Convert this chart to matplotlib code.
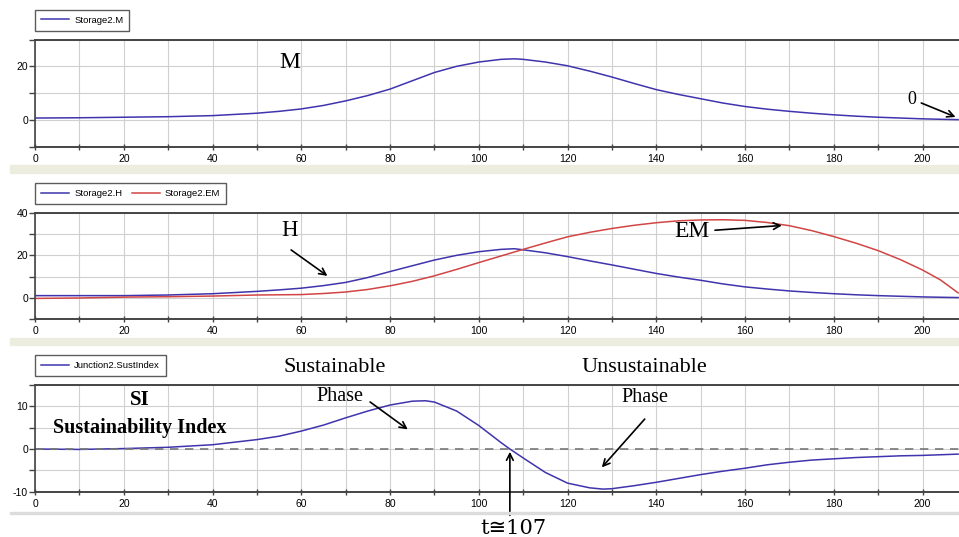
import matplotlib
matplotlib.use("Agg")
import matplotlib.pyplot as plt
from matplotlib.patches import Rectangle

# --- data (time in s) ---
t_M = [0, 10, 20, 30, 40, 50, 55, 60, 65, 70, 75, 80, 85, 90, 95, 100, 105, 108, 110,
       115, 120, 125, 130, 135, 140, 145, 150, 155, 160, 165, 170, 175, 180, 185, 190,
       195, 200, 205, 208]
M = [0.7, 0.8, 1.0, 1.2, 1.6, 2.5, 3.2, 4.1, 5.4, 7.1, 9.1, 11.5, 14.6, 17.7, 20.0, 21.6,
     22.6, 22.8, 22.6, 21.6, 20.2, 18.2, 16.0, 13.6, 11.3, 9.5, 7.9, 6.3, 5.0, 4.0, 3.2,
     2.5, 1.9, 1.4, 1.0, 0.7, 0.4, 0.2, 0.1]

t_H = t_M
H = [1.1, 1.1, 1.1, 1.4, 2.0, 3.1, 3.8, 4.6, 5.8, 7.3, 9.6, 12.4, 15.1, 17.8, 20.0, 21.7,
     22.8, 23.1, 22.6, 21.2, 19.4, 17.4, 15.5, 13.5, 11.5, 9.8, 8.3, 6.6, 5.2, 4.2, 3.3,
     2.6, 2.0, 1.5, 1.1, 0.8, 0.5, 0.3, 0.2]

t_EM = [0, 10, 20, 30, 40, 50, 60, 65, 70, 75, 80, 85, 90, 95, 100, 105, 110, 115, 120,
        125, 130, 135, 140, 145, 150, 155, 160, 165, 170, 175, 180, 185, 190, 195, 200,
        204, 208]
EM = [-0.2, 0.0, 0.4, 0.6, 0.9, 1.4, 1.6, 2.1, 2.8, 4.0, 5.7, 7.8, 10.4, 13.4, 16.6, 19.7,
      22.8, 25.8, 28.7, 30.8, 32.6, 34.1, 35.3, 36.2, 36.6, 36.7, 36.4, 35.4, 33.9, 31.6,
      28.8, 25.7, 22.2, 18.0, 13.1, 8.5, 2.4]

t_SI = [0, 10, 20, 30, 40, 50, 55, 60, 65, 70, 75, 80, 85, 88, 90, 95, 100, 105, 107, 110,
        115, 120, 125, 128, 130, 135, 140, 145, 150, 155, 160, 165, 170, 175, 180, 185,
        190, 195, 200, 208]
SI = [0.0, -0.1, 0.1, 0.4, 1.0, 2.2, 3.0, 4.2, 5.6, 7.3, 8.9, 10.3, 11.2, 11.3, 11.0, 8.9,
      5.5, 1.5, 0.0, -2.1, -5.5, -8.0, -9.1, -9.4, -9.3, -8.6, -7.8, -6.9, -6.0, -5.2, -4.5,
      -3.7, -3.1, -2.6, -2.3, -2.0, -1.8, -1.6, -1.5, -1.2]

BLUE = '#3f34ad'
RED = '#d24545'
SERIF = ['Liberation Serif', 'DejaVu Serif']

plt.rcParams['font.family'] = ['Liberation Sans', 'DejaVu Sans']
plt.rcParams['axes.unicode_minus'] = False

fig = plt.figure(figsize=(9.59, 5.37), dpi=100)

# light separator bands between the stacked plots
for y0, h, c in [(364, 8, '#ecedde'), (192, 7, '#ecedde'), (23, 2, '#dcdcdc')]:
    fig.patches.append(Rectangle((10 / 959, y0 / 537), 949 / 959, h / 537,
                                 transform=fig.transFigure, color=c, zorder=0))


def style(ax, ylim, ymajor, yminor):
    ax.set_xlim(0, 208.2)
    ax.set_ylim(*ylim)
    ax.set_xticks(range(0, 201, 20))
    ax.set_xticks(range(10, 201, 20), minor=True)
    ax.set_yticks(ymajor)
    ax.set_yticks(yminor, minor=True)
    ax.grid(True, which='both', color='#d0d0d0', lw=0.8)
    ax.set_axisbelow(True)
    for s in ['top', 'bottom']:
        ax.spines[s].set_color('#444444')
        ax.spines[s].set_linewidth(1.4)
    ax.spines['left'].set_color('#444444')
    ax.spines['left'].set_linewidth(1.2)
    ax.spines['right'].set_visible(False)
    ax.tick_params(axis='x', which='both', direction='inout', length=4, width=1,
                   labelsize=7.5, pad=3, color='#444444')
    ax.tick_params(axis='y', which='both', direction='out', length=4, width=1,
                   labelsize=7.5, pad=1, color='#444444')


def legend(ax, ncol):
    lg = ax.legend(loc='upper left', bbox_to_anchor=(0.0, 1.28), ncol=ncol, fontsize=6.8,
                   handlelength=3, frameon=True, fancybox=False, borderpad=0.65,
                   borderaxespad=0, columnspacing=1.0, handletextpad=0.5)
    lg.get_frame().set_edgecolor('#333333')
    lg.get_frame().set_linewidth(1.0)


arrow = dict(arrowstyle='->', color='black', lw=1.2, mutation_scale=12)

# --- panel 1: M ---
ax1 = fig.add_axes([0.0365, 0.7268, 0.9635, 0.1996])
ax1.plot(t_M, M, color=BLUE, lw=1.1, label='Storage2.M')
style(ax1, (-10, 30), [0, 20], [-10, 10, 30])
legend(ax1, 1)
ax1.text(57.4, 21.3, 'M', family=SERIF, fontsize=17, ha='center', va='center')
ax1.annotate('0', xy=(208, 0.7), xytext=(197.5, 7.8), family=SERIF, fontsize=13,
             ha='center', va='center', arrowprops=arrow, annotation_clip=False)

# --- panel 2: H and EM ---
ax2 = fig.add_axes([0.0365, 0.4054, 0.9635, 0.1985])
ax2.plot(t_H, H, color=BLUE, lw=1.1, label='Storage2.H')
ax2.plot(t_EM, EM, color=RED, lw=1.1, label='Storage2.EM')
style(ax2, (-10, 40), [0, 20, 40], [-10, 10, 30])
legend(ax2, 2)
ax2.text(57.4, 31.5, 'H', family=SERIF, fontsize=16.5, ha='center', va='center')
ax2.annotate('', xy=(66.4, 9.6), xytext=(57.2, 23.3), arrowprops=arrow)
ax2.annotate('EM', xy=(168.9, 34.1), xytext=(148, 31.0), family=SERIF, fontsize=17,
             ha='center', va='center', arrowprops=arrow)

# --- panel 3: sustainability index ---
ax3 = fig.add_axes([0.0365, 0.0844, 0.9635, 0.1987])
ax3.plot(t_SI, SI, color=BLUE, lw=1.1, label='Junction2.SustIndex')
ax3.axhline(0, color='#777777', lw=1.2, ls=(0, (5, 4)))
style(ax3, (-10, 15), [-10, 0, 10], [-5, 5, 15])
legend(ax3, 1)
ax3.text(67.6, 19.2, 'Sustainable', family=SERIF, fontsize=16, ha='center', va='center')
ax3.text(137.4, 19.2, 'Unsustainable', family=SERIF, fontsize=16, ha='center', va='center')
ax3.text(23.6, 11.4, 'SI', family=SERIF, fontsize=15, weight='bold', ha='center', va='center')
ax3.text(23.6, 4.9, 'Sustainability Index', family=SERIF, fontsize=14.5, weight='bold',
         ha='center', va='center')
ax3.text(68.7, 12.2, 'Phase', family=SERIF, fontsize=14.5, ha='center', va='center')
ax3.annotate('', xy=(84.5, 4.2), xytext=(75, 11.4), arrowprops=arrow)
ax3.text(137.4, 12.0, 'Phase', family=SERIF, fontsize=14.5, ha='center', va='center')
ax3.annotate('', xy=(127.3, -4.8), xytext=(137.8, 7.5), arrowprops=arrow)
ax3.annotate('', xy=(107, 0), xytext=(107, -16.2), arrowprops=arrow, annotation_clip=False)
ax3.text(107.7, -18.6, 't\u2245107', family=['DejaVu Serif', 'DejaVu Sans'], fontsize=15,
         ha='center', va='center', clip_on=False)

fig.savefig('out.png', dpi=100)
